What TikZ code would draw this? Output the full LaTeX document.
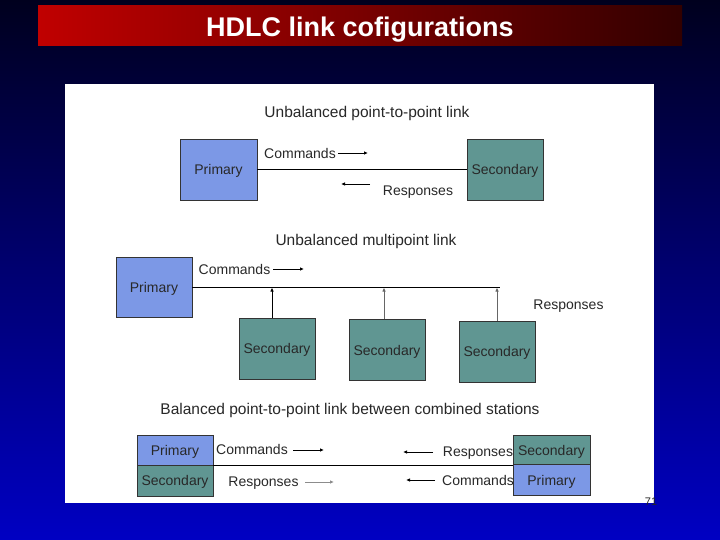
\documentclass[tikz,border=0pt]{standalone}
\usepackage{fontspec}
\setmainfont{Liberation Sans}
\usetikzlibrary{arrows.meta}
\definecolor{prim}{RGB}{124,152,230}
\definecolor{sec}{RGB}{96,150,146}
\definecolor{txt}{RGB}{40,40,40}
\definecolor{bgtop}{RGB}{0,0,30}
\definecolor{bgmid}{RGB}{0,0,120}
\definecolor{bgbot}{RGB}{0,0,195}
\definecolor{redl}{RGB}{192,0,0}
\definecolor{redm}{RGB}{130,0,0}
\definecolor{redr}{RGB}{50,0,0}
\begin{document}
\begin{tikzpicture}[x=1pt,y=-1pt,
  box/.style={draw=black!80, line width=0.8pt, minimum width=76pt, minimum height=61pt, inner sep=0pt, text depth=0pt, font=\fontsize{14}{16}\selectfont, text=txt},
  pbox/.style={box, fill=prim},
  sbox/.style={box, fill=sec},
  half/.style={minimum height=30.5pt},
  lbl/.style={font=\fontsize{14}{16}\selectfont, text=txt, inner sep=0pt, text depth=0pt},
  ttl/.style={font=\fontsize{15.5}{18}\selectfont, text=txt, inner sep=0pt, text depth=0pt},
  link/.style={line width=1pt, black},
  arr/.style={line width=0.8pt, -{Latex[length=4pt,width=3.5pt]}},
]
\useasboundingbox (0,0) rectangle (720,540);
\shade[top color=bgtop, middle color=bgmid, bottom color=bgbot] (0,0) rectangle (720,540);
\shade[left color=redl, middle color=redm, right color=redr] (38,6) rectangle (682,46);
\node[font=\bfseries\fontsize{27}{30}\selectfont, text=white, inner sep=0pt, text depth=0pt] (title) at (360,27) {HDLC link cofigurations};
\fill[white] (65,84) rectangle (654,503);

% Panel 1
\node[ttl] (t1) at (367,112) {Unbalanced point-to-point link};
\node[pbox, minimum width=77pt] (p1) at (218.5,169.5) {Primary};
\node[sbox] (s1) at (505,169.5) {Secondary};
\draw[link] (p1) -- (s1);
\node[lbl] (c1) at (300,153) {Commands};
\coordinate (c1a) at (338,153);
\coordinate (c1b) at (368,153);
\draw[arr] (c1a) -- (c1b);
\node[lbl] (r1) at (418,191) {Responses};
\coordinate (r1a) at (370,184);
\coordinate (r1b) at (341,184);
\draw[arr] (r1a) -- (r1b);

% Panel 2
\node[ttl] (t2) at (366,240) {Unbalanced multipoint link};
\node[pbox, minimum height=60pt] (p2) at (154,287.5) {Primary};
\coordinate (e2) at (500,287.5);
\draw[link] (p2) -- (e2);
\node[lbl] (c2) at (234.5,269) {Commands};
\coordinate (c2a) at (273,269);
\coordinate (c2b) at (304,269);
\draw[arr] (c2a) -- (c2b);
\node[sbox] (s2a) at (277,348.5) {Secondary};
\node[sbox] (s2b) at (387,350) {Secondary};
\node[sbox] (s2c) at (497,351.5) {Secondary};
\coordinate (t2a) at (272,287.5);
\coordinate (t2b) at (384,287.5);
\coordinate (t2c) at (497,287.5);
\draw[arr] (s2a.north -| t2a) -- (t2a);
\draw[arr, black!60] (s2b.north -| t2b) -- (t2b);
\draw[arr, black!60] (s2c.north -| t2c) -- (t2c);
\node[lbl] (r2) at (568.5,305) {Responses};

% Panel 3
\node[ttl] (t3) at (350,409) {Balanced point-to-point link between combined stations};
\node[pbox, half] (lp) at (175,450.25) {Primary};
\node[sbox, half] (ls) at (175,480.75) {Secondary};
\node[sbox, half, minimum width=77pt] (rs) at (551.5,450.25) {Secondary};
\node[pbox, half, minimum width=77pt] (rp) at (551.5,480) {Primary};
\coordinate (m3l) at (213,465.5);
\coordinate (m3r) at (513,465.5);
\draw[link] (m3l) -- (m3r);
\node[lbl] (c3) at (252,449) {Commands};
\coordinate (c3a) at (293,450);
\coordinate (c3b) at (324,450);
\draw[arr] (c3a) -- (c3b);
\node[lbl] (r3) at (263.5,482) {Responses};
\coordinate (r3a) at (305,482);
\coordinate (r3b) at (334,482);
\draw[arr, black!45] (r3a) -- (r3b);
\node[lbl] (r4) at (478,452) {Responses};
\coordinate (r4a) at (433,452);
\coordinate (r4b) at (403,452);
\draw[arr] (r4a) -- (r4b);
\node[lbl] (c4) at (478,480) {Commands};
\coordinate (c4a) at (435,480);
\coordinate (c4b) at (406,480);
\draw[arr] (c4a) -- (c4b);

\node[font=\fontsize{11}{12}\selectfont, text=black!85, inner sep=0pt] (pg) at (651,502) {71};
\end{tikzpicture}
\end{document}
